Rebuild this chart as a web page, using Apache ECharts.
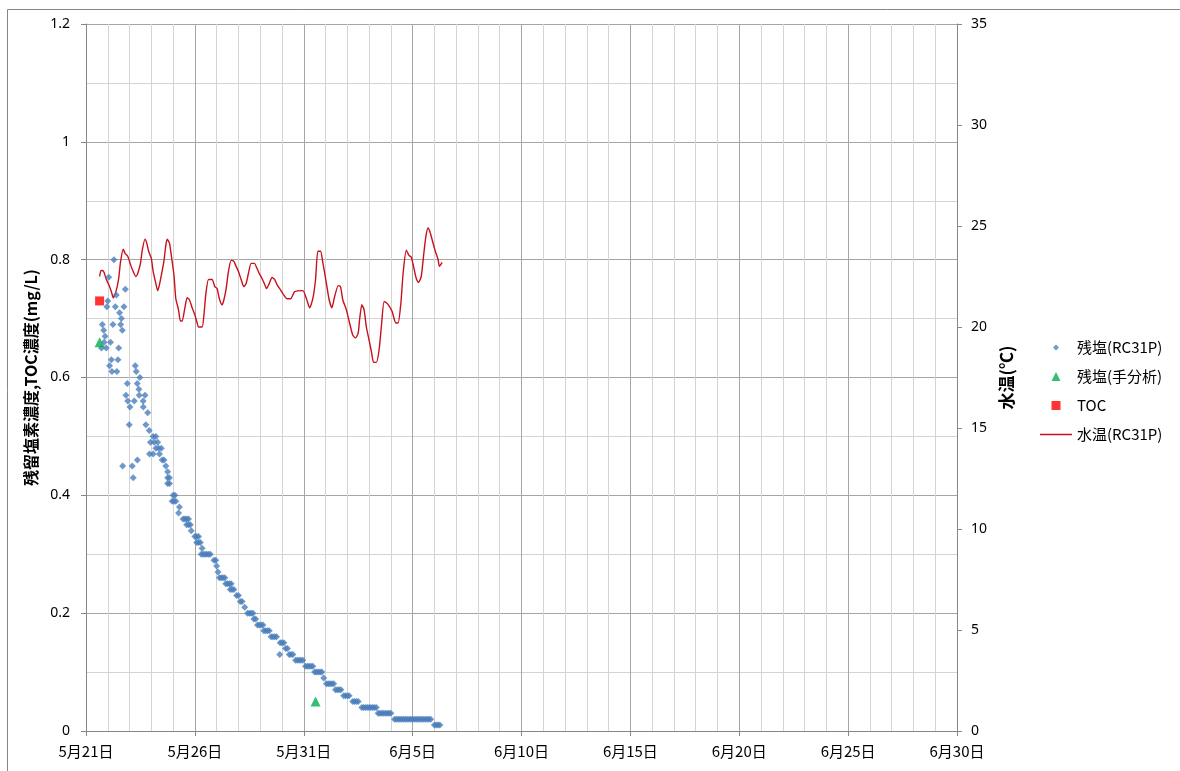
<!DOCTYPE html>
<html>
<head>
<meta charset="utf-8">
<script src="https://cdn.jsdelivr.net/npm/echarts@6/dist/echarts.min.js"></script>
<style>html,body{margin:0;padding:0;background:#fff}#c{width:1180px;height:771px}</style>
</head>
<body>
<div id="c"></div>
<script>
// x values are hours since 5/21 00:00
var xTickLabels = ['5月21日','5月26日','5月31日','6月5日','6月10日','6月15日','6月20日','6月25日','6月30日'];
var leftTickLabels = ['0','0.2','0.4','0.6','0.8','1','1.2'];
var rightTickLabels = ['0','5','10','15','20','25','30','35'];
var seriesNames = ['残塩(RC31P)','残塩(手分析)','TOC','水温(RC31P)'];

// 残塩(RC31P) [hour, mg/L]
var chlorineRC31P = [
 [17,0.65],[18,0.69],[19.5,0.68],[20,0.66],[21,0.67],[22.3,0.65],[23,0.72],[24,0.73],[25,0.77],[26,0.62],
 [27,0.66],[28,0.63],[28.6,0.61],[29.7,0.69],[30.8,0.80],[32.3,0.72],[33.4,0.74],[34,0.61],[35.2,0.63],[36,0.65],
 [37,0.71],[38.2,0.69],[39,0.70],[40,0.68],[40.4,0.45],[41.8,0.72],[43.3,0.75],[44,0.57],[45.5,0.59],[46,0.56],
 [47.7,0.52],[48.4,0.55],[51,0.45],[52,0.43],[53.2,0.56],[54.3,0.62],[55.4,0.61],[56.5,0.59],[56.6,0.46],[58.3,0.58],
 [58.7,0.57],[59.4,0.60],[63,0.56],[63.2,0.55],[65,0.57],[66,0.52],[68,0.54],[69.7,0.51],
 [70,0.47],[71,0.49],[74,0.50],[74,0.47],[75,0.49],[77,0.50],[77,0.48],[79,0.49],[80,0.48],[81,0.47],[83,0.48],
 [84,0.46],[86,0.46],[88,0.45],[90,0.44],[90,0.43],[92,0.43],[90,0.42],[92,0.42],
 [95,0.39],[96,0.40],[97,0.39],[98,0.40],[99,0.39],[102,0.37],[103,0.38],
 [107,0.36],[109,0.36],[111,0.36],[113,0.36],[111,0.35],[113,0.35],[115,0.35],[116,0.34],
 [120,0.33],[122,0.33],[124,0.33],[122,0.32],[124,0.32],[126,0.32],[128,0.31],
 [127,0.30],[129,0.30],[131,0.30],[133,0.30],[135,0.30],[137,0.30],[141,0.29],[143,0.29],[144,0.28],[145.5,0.27],
 [147,0.26],[149,0.26],[151,0.26],[153,0.26],[154,0.25],[156,0.25],[158,0.25],[160,0.25],[159,0.24],[161,0.24],[163,0.24],
 [166,0.23],[168,0.23],[170,0.22],[172,0.22],[175,0.21],[178,0.20],[180,0.20],[182,0.20],[184,0.20],[185,0.19],[187,0.19],
 [189,0.18],[191,0.18],[193,0.18],[195,0.18],[196,0.17],[198,0.17],[200,0.17],[202,0.17],
 [204,0.16],[206,0.16],[208,0.16],[210,0.16],[213.5,0.13],[214,0.15],[216,0.15],[218,0.15],[220,0.14],[222,0.14],
 [224,0.13],[226,0.13],[228,0.13],[231,0.12],[233,0.12],[235,0.12],[237,0.12],[239,0.12],
 [242,0.11],[244,0.11],[246,0.11],[248,0.11],[250,0.11],[252,0.10],[254,0.10],[256,0.10],[258,0.10],[260,0.10],
 [262,0.09],[265,0.08],[267,0.08],[269,0.08],[271,0.08],[273,0.08],[275,0.07],[277,0.07],[279,0.07],[281,0.07],
 [284,0.06],[286,0.06],[288,0.06],[290,0.06],[294,0.05],[296,0.05],[298,0.05],[300,0.05],
 [304,0.04],[306,0.04],[308,0.04],[310,0.04],[312,0.04],[314,0.04],[316,0.04],[318,0.04],[320,0.04],
 [322,0.03],[324,0.03],[326,0.03],[328,0.03],[330,0.03],[332,0.03],[334,0.03],[336,0.03],
 [340,0.02],[342,0.02],[344,0.02],[346,0.02],[348,0.02],[350,0.02],[352,0.02],[354,0.02],[356,0.02],[358,0.02],
 [360,0.02],[362,0.02],[364,0.02],[366,0.02],[368,0.02],[370,0.02],[372,0.02],[374,0.02],[376,0.02],[378,0.02],[380,0.02],
 [384,0.01],[386,0.01],[388,0.01],[390,0.01]
];
// 残塩(手分析) [hour, mg/L]
var chlorineManual = [[15,0.66],[253,0.05]];
// TOC [hour, mg/L]
var tocValues = [[15,0.73]];
// 水温(RC31P) [hour, ℃]
var waterTemp = [
 [15,22.5],[16.5,22.8],[18,22.8],[20,22.7],[22,22.4],[25,22.1],[28,21.75],[30,21.45],[33,21.75],[36,22.4],
 [38,23.2],[41,23.85],[43,23.65],[46,23.5],[49,23.1],[52,22.75],[55,22.5],[57,22.65],[60,23.15],[62,23.8],
 [65,24.35],[67,24.15],[69,23.75],[72,23.4],[74,22.75],[77,22.15],[79,21.8],[81,22.1],[83,22.55],[86,23.3],
 [88,24.05],[89.5,24.35],[92,24.15],[94,23.55],[97,22.55],[99,21.4],[102,20.85],[104,20.3],[106,20.3],[109,20.95],
 [111.5,21.45],[114,21.35],[117,20.95],[120,20.6],[122.5,20.2],[124,20.0],[128,20.0],[130,20.6],[132,21.6],[135,22.35],
 [139,22.35],[142,22.0],[144.5,21.9],[147,21.4],[150,21.1],[152,21.35],[154.5,21.9],[157,22.75],[160,23.3],[163,23.25],
 [165.5,23.0],[168,22.75],[171,22.35],[174,22.0],[176.5,22.15],[179,22.65],[182,23.15],[185.5,23.15],[188.5,22.9],[191,22.65],
 [194,22.4],[197,22.1],[199,21.9],[202,22.15],[205,22.45],[208,22.35],[210.5,22.1],[213.5,21.9],[217,21.65],[221.5,21.4],
 [225.5,21.4],[230,21.75],[239,21.8],[243,21.4],[246.5,20.95],[250,21.4],[253,22.35],[255.5,23.75],[258.5,23.75],[261,23.2],
 [265,22.15],[268,21.35],[271,20.95],[274,21.5],[278,22.05],[280.5,22.0],[283,21.35],[287,20.85],[290.5,20.2],[294,19.6],
 [297,19.45],[300,19.7],[301.5,20.35],[304,21.1],[306.5,20.85],[309,20.0],[312,19.35],[314.5,18.8],[317,18.25],[320,18.25],
 [323,18.85],[325.5,20.0],[328.5,21.25],[331,21.2],[334,21.05],[337.5,20.75],[341.5,20.2],[344,20.2],[347,21.15],[349.5,22.65],
 [353,23.8],[356,23.55],[358.5,23.45],[361,23.0],[364,22.4],[366.5,22.2],[369.5,22.5],[372,23.5],[374.5,24.45],[377,24.9],
 [379.5,24.65],[382.5,24.15],[385,23.75],[388,23.35],[389.5,23.0],[392.5,23.2]
];

var chart = echarts.init(document.getElementById('c'), null, {renderer:'canvas'});
var axisGray = '#868686';
var numFont = 'Noto Sans';
var cjkFont = 'Noto Sans CJK JP';
var option = {
  animation: false,
  backgroundColor: '#fff',
  graphic: [{type:'rect', left:5, top:7, z:-10, shape:{width:1300, height:900}, style:{fill:'none', stroke:axisGray, lineWidth:1}}],
  grid: {left:86, right:223, top:24, bottom:40},
  xAxis: {
    type:'value', min:0, max:960, interval:120,
    axisLine:{show:true, lineStyle:{color:axisGray}},
    axisTick:{show:true, length:5, lineStyle:{color:axisGray}},
    axisLabel:{margin:13, color:'#000', fontFamily:cjkFont, fontSize:15,
      formatter:function(v){ return xTickLabels[Math.round(v/120)] || ''; }},
    splitLine:{show:true, lineStyle:{color:'#a6a6a6'}},
    minorTick:{show:false, splitNumber:5},
    minorSplitLine:{show:true, lineStyle:{color:'#d4d4d4'}}
  },
  yAxis: [{
    type:'value', position:'left', min:0, max:1.2, interval:0.2,
    name:'残留塩素濃度,TOC濃度(mg/L)', nameLocation:'middle', nameRotate:90, nameGap:46,
    nameTextStyle:{fontFamily:cjkFont, fontWeight:'bold', fontSize:16, color:'#000'},
    axisLine:{show:true, lineStyle:{color:axisGray}},
    axisTick:{show:true, length:5, lineStyle:{color:axisGray}},
    axisLabel:{margin:16, color:'#000', fontFamily:numFont, fontSize:14,
      formatter:function(v){ return leftTickLabels[Math.round(v/0.2)]; }},
    splitLine:{show:true, lineStyle:{color:'#a6a6a6'}},
    minorTick:{show:false, splitNumber:2},
    minorSplitLine:{show:true, lineStyle:{color:'#d4d4d4'}}
  },{
    type:'value', position:'right', min:0, max:35, interval:5,
    name:'水温(℃)', nameLocation:'middle', nameRotate:90, nameGap:38,
    nameTextStyle:{fontFamily:cjkFont, fontWeight:'bold', fontSize:17, color:'#000'},
    axisLine:{show:true, lineStyle:{color:axisGray}},
    axisTick:{show:true, length:5, lineStyle:{color:axisGray}},
    axisLabel:{margin:14, color:'#000', fontFamily:numFont, fontSize:14,
      formatter:function(v){ return rightTickLabels[Math.round(v/5)]; }},
    splitLine:{show:false}
  }],
  legend: {
    orient:'vertical', left:1035, top:335, itemWidth:32, itemHeight:9, itemGap:14, symbolKeepAspect:true,
    data:[
      {name:seriesNames[0], icon:'path://M0,0M10,10M5,1.8L8.2,5L5,8.2L1.8,5Z'},
      {name:seriesNames[1], icon:'path://M5,0L10,10L0,10Z'},
      {name:seriesNames[2], icon:'path://M0,0H10V10H0Z'},
      {name:seriesNames[3], icon:'path://M0,0H64V3H0Z'}
    ],
    textStyle:{fontFamily:cjkFont, fontSize:15, color:'#000'}
  },
  series: [{
    name:seriesNames[3], type:'line', yAxisIndex:1, data:waterTemp, symbol:'none', smooth:0.2,
    lineStyle:{color:'#c8101c', width:1.4}, itemStyle:{color:'#c8101c'}, z:2
  },{
    name:seriesNames[0], type:'scatter', yAxisIndex:0, data:chlorineRC31P, symbol:'diamond', symbolSize:7,
    itemStyle:{color:'#4a7ebb'}, z:3
  },{
    name:seriesNames[1], type:'scatter', yAxisIndex:0, data:chlorineManual, symbol:'triangle', symbolSize:10,
    itemStyle:{color:'#00b050'}, z:4
  },{
    name:seriesNames[2], type:'scatter', yAxisIndex:0, data:tocValues, symbol:'rect', symbolSize:9,
    itemStyle:{color:'#ff0000'}, z:4
  }]
};
chart.setOption(option);
</script>
</body>
</html>
